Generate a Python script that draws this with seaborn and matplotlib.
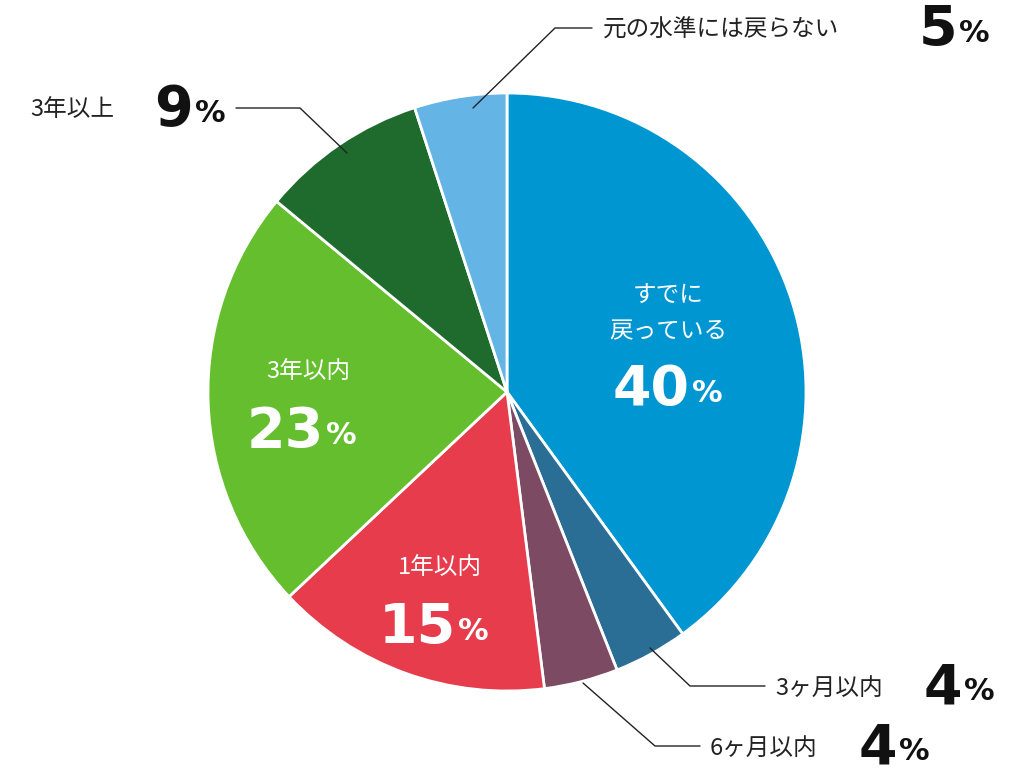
import matplotlib
matplotlib.use("Agg")
import matplotlib.pyplot as plt
import seaborn as sns

sns.set_theme(style="white")

categories = ["すでに戻っている", "3ヶ月以内", "6ヶ月以内", "1年以内", "3年以内", "3年以上", "元の水準には戻らない"]
values = [40, 4, 4, 15, 23, 9, 5]
colors = ["#0096D2", "#2A6E96", "#7D4A64", "#E63C4B", "#64BE2D", "#1E6B2D", "#64B4E6"]

W, H = 1018, 779
CX, CY, R = 507, 392, 299
fig = plt.figure(figsize=(W / 100, H / 100), dpi=100)
ax = fig.add_axes([(CX - R) / W, (H - CY - R) / H, 2 * R / W, 2 * R / H])
ax.pie(values, colors=colors, startangle=90, counterclock=False, radius=1,
       wedgeprops=dict(edgecolor="white", linewidth=2))
ax.set_xlim(-1, 1); ax.set_ylim(-1, 1); ax.set_aspect("equal"); ax.axis("off")

def P(px, py):
    return ((px - CX) / R, (CY - py) / R)

JP = "Noto Sans CJK JP"
NUM = "Liberation Sans Narrow"

def txt(px, py, s, size, color="#222222", ha="left", bold=False, fam=JP):
    x, y = P(px, py)
    ax.text(x, y, s, fontsize=size, color=color, ha=ha, va="center",
            fontfamily=fam, fontweight="bold" if bold else "normal", clip_on=False)

def pct(px_right, py, num, color="#111111", big=40, small=22):
    txt(px_right, py, num, big, color, ha="right", bold=True, fam=NUM)
    txt(px_right + 2, py + 4, "%", small, color, ha="left", bold=True, fam=NUM)

def leader(pts):
    xs, ys = zip(*[P(a, b) for a, b in pts])
    ax.plot(xs, ys, color="#222222", lw=1, clip_on=False)

# inside labels
txt(668, 296, "すでに", 17, "white", ha="center")
txt(668, 332, "戻っている", 17, "white", ha="center")
pct(690, 390, str(values[0]), "white")
txt(308, 372, "3年以内", 17, "white", ha="center")
pct(324, 432, str(values[4]), "white")
txt(440, 568, "1年以内", 17, "white", ha="center")
pct(456, 628, str(values[3]), "white")

# outside labels
leader([(473, 108), (555, 28), (592, 28)])
txt(603, 30, categories[6], 17)
pct(957, 30, str(values[6]))

leader([(347, 153), (300, 108), (236, 108)])
txt(30, 110, categories[5], 17)
pct(193, 110, str(values[5]))

leader([(650, 648), (690, 686), (765, 686)])
txt(775, 688, categories[1], 17)
pct(962, 688, str(values[1]))

leader([(583, 683), (655, 746), (700, 746)])
txt(710, 748, categories[2], 17)
pct(897, 748, str(values[2]))

fig.savefig("out.png", dpi=100)
